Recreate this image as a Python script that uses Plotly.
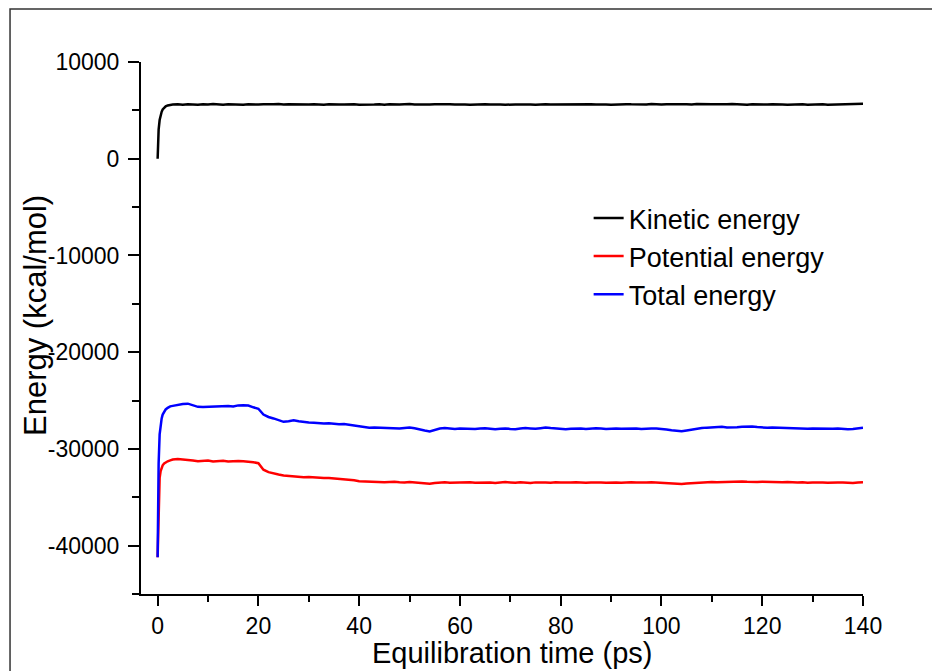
import plotly.graph_objects as go

# ---- data ----
time_early = [0, 0.1, 0.2, 0.4, 0.6, 0.8, 1.0, 1.3, 1.6, 2.0, 2.5]
time_main = list(range(3, 141))
time_ps = time_early + time_main

kinetic_early = [0, 1800, 3000, 4000, 4500, 4850, 5100, 5300, 5420, 5510, 5570]
kinetic_main = [
    5600, 5620, 5590, 5640, 5610, 5580, 5630, 5600, 5650, 5610,
    5590, 5630, 5600, 5620, 5580, 5640, 5610, 5600, 5630, 5590,
    5620, 5650, 5600, 5630, 5610, 5660, 5620, 5600, 5640, 5610,
    5590, 5630, 5650, 5610, 5600, 5640, 5620, 5580, 5610, 5630,
    5600, 5620, 5590, 5640, 5610, 5600, 5630, 5660, 5610, 5590,
    5620, 5600, 5640, 5610, 5580, 5620, 5600, 5630, 5610, 5590,
    5620, 5600, 5640, 5610, 5630, 5600, 5580, 5620, 5610, 5600,
    5630, 5610, 5590, 5620, 5640, 5600, 5610, 5580, 5620, 5600,
    5630, 5610, 5650, 5620, 5600, 5640, 5610, 5590, 5620, 5610,
    5640, 5620, 5600, 5630, 5610, 5650, 5620, 5600, 5640, 5610,
    5590, 5620, 5640, 5610, 5660, 5630, 5610, 5640, 5620, 5600,
    5630, 5650, 5610, 5620, 5590, 5640, 5610, 5630, 5600, 5620,
    5640, 5610, 5590, 5620, 5600, 5630, 5580, 5610, 5600, 5620,
    5590, 5610, 5600, 5630, 5620, 5640, 5660, 5680,
]

potential_early = [-41200, -38000, -35000, -33000, -32300, -31950, -31700, -31500, -31380, -31280, -31180]
potential_main = [
    -31100, -31050, -31080, -31150, -31200, -31280, -31250, -31200, -31300, -31260,
    -31220, -31300, -31260, -31240, -31280, -31300, -31380, -31480, -32150, -32400,
    -32550, -32650, -32750, -32800, -32850, -32880, -32920, -32900, -32950, -33000,
    -33020, -33000, -33050, -33080, -33090, -33150, -33250, -33350, -33380, -33400,
    -33380, -33420, -33450, -33430, -33400, -33450, -33480, -33420, -33460, -33500,
    -33550, -33600, -33520, -33480, -33450, -33500, -33470, -33440, -33480, -33450,
    -33500, -33470, -33440, -33480, -33520, -33460, -33430, -33470, -33500, -33450,
    -33480, -33520, -33460, -33430, -33470, -33500, -33450, -33480, -33510, -33470,
    -33440, -33480, -33500, -33460, -33430, -33470, -33490, -33450, -33480, -33500,
    -33460, -33440, -33480, -33510, -33470, -33450, -33480, -33500, -33530, -33560,
    -33600, -33620, -33580, -33540, -33500, -33470, -33440, -33420, -33450, -33430,
    -33400, -33420, -33410, -33380, -33400, -33430, -33410, -33390, -33420, -33400,
    -33430, -33450, -33420, -33460, -33480, -33450, -33500, -33470, -33440, -33480,
    -33500, -33520, -33480, -33460, -33500, -33530, -33470, -33440,
]

total_early = [-41200, -36000, -31500, -28500, -27400, -26850, -26450, -26120, -25920, -25750, -25600]
total_main = [
    -25550, -25420, -25350, -25320, -25450, -25650, -25680, -25650, -25680, -25620,
    -25600, -25560, -25620, -25500, -25480, -25520, -25700, -25850, -26450, -26700,
    -26850, -27000, -27200, -27150, -27050, -27150, -27250, -27280, -27300, -27350,
    -27380, -27350, -27400, -27450, -27420, -27500, -27600, -27700, -27750, -27800,
    -27780, -27800, -27850, -27820, -27880, -27900, -27850, -27800, -27870, -27950,
    -28100, -28200, -28050, -27900, -27850, -27900, -27930, -27880, -27920, -27900,
    -27950, -27900, -27870, -27920, -27960, -27910, -27880, -27930, -27960, -27900,
    -27850, -27880, -27920, -27860, -27800, -27850, -27900, -27940, -27960, -27910,
    -27880, -27900, -27940, -27890, -27860, -27900, -27950, -27920, -27880, -27920,
    -27900, -27860, -27880, -27930, -27950, -27900, -27880, -27920, -28000, -28080,
    -28150, -28180, -28100, -28000, -27920, -27850, -27800, -27760, -27700, -27720,
    -27780, -27800, -27760, -27720, -27700, -27680, -27740, -27800, -27820, -27780,
    -27800, -27850, -27880, -27840, -27860, -27900, -27920, -27880, -27900, -27940,
    -27960, -27920, -27900, -27950, -27980, -27940, -27880, -27800,
]

kinetic = kinetic_early + kinetic_main
potential = potential_early + potential_main
total = total_early + total_main

series_names = ["Kinetic energy", "Potential energy", "Total energy"]
series_colors = ["#000000", "#ff0000", "#0000ff"]

x_ticks = [0, 20, 40, 60, 80, 100, 120, 140]
y_ticks = [-40000, -30000, -20000, -10000, 0, 10000]
y_tick_labels = ["-40000", "-30000", "-20000", "-10000", "0", "10000"]

x_title = "Equilibration time (ps)"
y_title = "Energy (kcal/mol)"

FONT = "Liberation Sans, Arial, sans-serif"

fig = go.Figure()
for name, ys, col in zip(series_names, [kinetic, potential, total], series_colors):
    fig.add_trace(go.Scatter(x=time_ps, y=ys, mode="lines", name=name,
                             line=dict(color=col, width=2.5)))

axis_common = dict(
    showline=True, linecolor="black", linewidth=2, mirror=False,
    ticks="outside", tickwidth=2, tickcolor="black",
    showgrid=False, zeroline=False,
    tickfont=dict(family=FONT, size=23, color="black"),
)

fig.update_layout(
    width=940, height=671,
    paper_bgcolor="white", plot_bgcolor="white",
    # page body adds an 8px offset; margins are compensated for it
    margin=dict(l=133, r=85, t=54, b=85),
    font=dict(family=FONT, color="black"),
    xaxis=dict(
        range=[-3.3, 140], tickvals=x_ticks, ticklen=10,
        minor=dict(dtick=10, tick0=0, ticks="outside", ticklen=6, tickwidth=2, tickcolor="black"),
        **axis_common,
    ),
    yaxis=dict(
        range=[-45000, 10000], tickvals=y_ticks, ticktext=y_tick_labels, ticklen=11,
        ticklabelstandoff=4,
        minor=dict(dtick=5000, tick0=0, ticks="outside", ticklen=7, tickwidth=2, tickcolor="black"),
        **axis_common,
    ),
    legend=dict(
        x=0.62, y=0.752, xanchor="left", yanchor="top",
        font=dict(family=FONT, size=27, color="black"),
        bgcolor="rgba(0,0,0,0)", borderwidth=0,
    ),
    annotations=[
        dict(text=x_title, xref="paper", yref="paper", x=0.5139, y=-0.110,
             xanchor="center", yanchor="middle", showarrow=False,
             font=dict(family=FONT, size=29, color="black")),
        dict(text=y_title, xref="paper", yref="paper", x=-0.1454, y=0.5226,
             xanchor="center", yanchor="middle", showarrow=False, textangle=-90,
             font=dict(family=FONT, size=31, color="black")),
    ],
    shapes=[dict(type="rect", xref="paper", yref="paper",
                 x0=-0.1814, x1=1.14, y0=-0.19, y1=1.0996,
                 line=dict(color="#333333", width=1.5), layer="above")],
)

fig.write_html("out.html")
